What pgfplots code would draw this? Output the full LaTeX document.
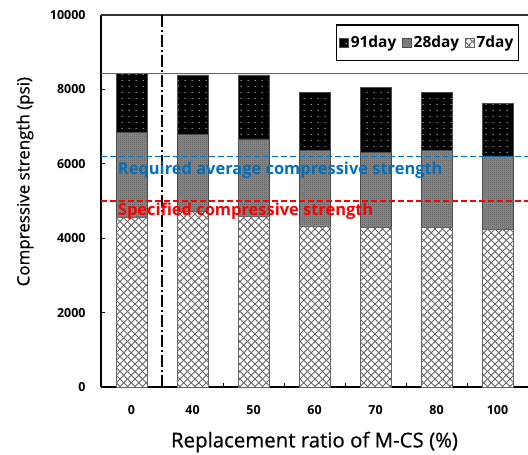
\documentclass[border=0pt]{standalone}
\usepackage{fontspec}
\setmainfont{Open Sans}
\newfontfamily\labfont{Open Sans}[FakeBold=0.6]
\usepackage{pgfplots}
\pgfplotsset{compat=1.18}
\usetikzlibrary{patterns,patterns.meta}
\definecolor{refblue}{RGB}{0,112,192}
\definecolor{refred}{RGB}{255,0,0}
\tikzdeclarepattern{
  name=xhatch, type=uncolored,
  bottom left={(-0.1bp,-0.1bp)}, top right={(7.6bp,7.6bp)},
  tile size={(7.5bp,7.5bp)},
  code={\draw[line width=0.9bp] (0,0) -- (7.5bp,7.5bp); \draw[line width=0.9bp] (0,7.5bp) -- (7.5bp,0);}
}
\tikzdeclarepattern{
  name=wdots, type=uncolored,
  bottom left={(0,0)}, top right={(7bp,6bp)},
  tile size={(7bp,6bp)},
  code={\fill (3.5bp,3bp) circle (0.6bp);}
}
\tikzdeclarepattern{
  name=checker, type=uncolored,
  bottom left={(0,0)}, top right={(2bp,2bp)},
  tile size={(2bp,2bp)},
  code={\fill (0,0) rectangle (1bp,1bp); \fill (1bp,1bp) rectangle (2bp,2bp);}
}
\pgfplotstableread{
x d91 d28 d7
0 8440 6850 4560
1 8390 6800 4710
2 8390 6670 4580
3 7910 6370 4330
4 8060 6310 4290
5 7910 6350 4290
6 7630 6210 4240
}\datatable
\begin{document}
\begin{tikzpicture}
\begin{axis}[
  name=ax,
  scale only axis,
  width=427bp, height=372bp,
  xmin=-0.5, xmax=6.5, ymin=0, ymax=10000,
  clip=false,
  scaled y ticks=false,
  axis x line*=bottom, axis y line*=left,
  axis line style={line width=1.6bp, black, -},
  xtick={0,...,6},
  xticklabels={0,40,50,60,70,80,100},
  minor xtick={0.5,1.5,...,5.5},
  major x tick style={draw=none},
  minor x tick style={line width=1bp, black},
  minor tick length=4bp,
  ytick={0,2000,...,10000},
  major y tick style={line width=1bp, black},
  major tick length=4bp,
  tick align=inside,
  /pgf/number format/assume math mode=true,
  /pgf/number format/1000 sep={},
  ticklabel style={font=\bfseries\fontsize{12.5}{12.5}\selectfont},
  xticklabel style={anchor=center, yshift=-23bp},
  yticklabel style={anchor=east, xshift=-12bp},
  xlabel={Replacement ratio of M-CS (\%)},
  ylabel={Compressive strength (psi)},
  every axis x label/.style={at={(axis description cs:0.5,0)}, yshift=-55bp, anchor=center, font=\labfont\fontsize{20.5}{20.5}\selectfont},
  every axis y label/.style={at={(axis description cs:0,0.552)}, xshift=-76bp, rotate=90, anchor=center, font=\labfont\fontsize{17}{17}\selectfont},
  legend style={at={(axis description cs:0.979,0.975)}, anchor=north east,
    draw=black, line width=1.5bp, inner xsep=3bp, inner ysep=9bp,
    font=\bfseries\fontsize{15.5}{15.5}\selectfont,
    /tikz/every even column/.append style={column sep=4bp}},
  legend columns=3,
  legend cell align=left,
  legend image code/.code={\draw[#1, line width=0.4bp] (0bp,-4.5bp) rectangle (9bp,4.5bp);},
]
\addplot[ybar, bar width=31bp, bar shift=0pt, draw=black!70, line width=0.6bp,
  fill=black, postaction={pattern=wdots, pattern color=white}]
  table[x=x, y=d91] {\datatable};
\addlegendentry{91day}
\addplot[ybar, bar width=31bp, bar shift=0pt, draw=black!70, line width=0.6bp,
  fill=black!45, postaction={pattern=checker, pattern color=black!72}]
  table[x=x, y=d28] {\datatable};
\addlegendentry{28day}
\addplot[ybar, bar width=31bp, bar shift=0pt, draw=black!60, line width=0.6bp,
  fill=white, postaction={pattern=xhatch, pattern color=black!60}]
  table[x=x, y=d7] {\datatable};
\addlegendentry{7day}
% top border and upper reference line
\addplot[forget plot, black!80, line width=1.2bp] coordinates {(-0.5,10000) (6.5,10000)};
\addplot[forget plot, black!60, line width=0.9bp] coordinates {(-0.5,8440) (6.5,8440)};
% dash-dot separator
\addplot[forget plot, black, line width=1.8bp, dash pattern=on 12bp off 3bp on 2bp off 3bp] coordinates {(0.5,0) (0.5,10000)};
% reference strength lines
\addplot[forget plot, refblue, line width=1.6bp, dash pattern=on 6bp off 3bp] coordinates {(-0.5,6200) (6.5,6200)};
\addplot[forget plot, refred, line width=1.6bp, dash pattern=on 6bp off 3bp] coordinates {(-0.5,5000) (6.5,5000)};
\node[anchor=base west, inner sep=0pt, text=refblue, font=\bfseries\fontsize{16.5}{16.5}\selectfont] at (axis cs:-0.225,5700) {Required average compressive strength};
\node[anchor=base west, inner sep=0pt, text=refred, font=\bfseries\fontsize{16.5}{16.5}\selectfont] at (axis cs:-0.225,4600) {Specified compressive strength};
\end{axis}
\pgfresetboundingbox
\path ([xshift=-101bp,yshift=15bp]ax.north west) rectangle ([yshift=-67bp]ax.south east);
\end{tikzpicture}
\end{document}
